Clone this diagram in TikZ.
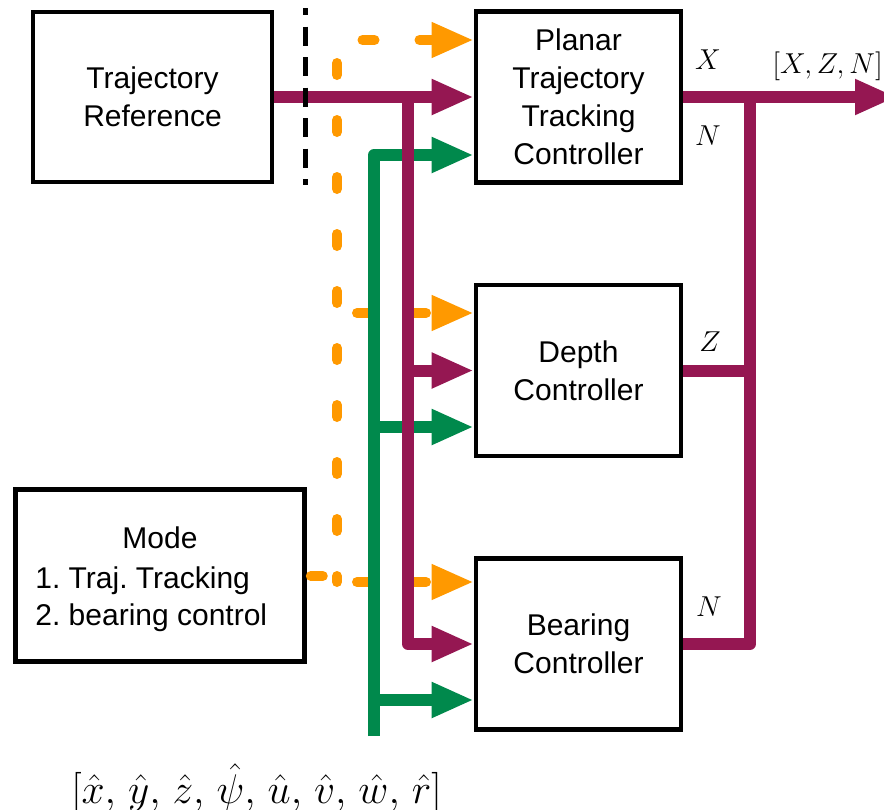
\documentclass[tikz,border=0pt]{standalone}
\usepackage{fontspec}
\setmainfont{Liberation Sans}
\usetikzlibrary{arrows.meta}
\definecolor{cpur}{RGB}{149,23,82}
\definecolor{cgrn}{RGB}{0,137,76}
\definecolor{corg}{RGB}{255,153,0}
\frenchspacing
\newcommand{\cmsp}{,\mskip2.2mu}
\begin{document}
\begin{tikzpicture}[x=0.5pt,y=-0.5pt,
  blk/.style={draw=black,line width=2.3pt,inner sep=0pt,align=center,
    font=\fontsize{15}{19}\selectfont},
  ctrl/.style={blk,minimum width=102.5pt,minimum height=85.5pt},
  txt/.style={inner sep=0pt,font=\fontsize{15}{19}\selectfont},
  lbl/.style={inner sep=0pt,font=\fontsize{15}{18}\selectfont},
  wire/.style={line width=6pt,line join=round},
  tipa/.style={-{Triangle[length=21pt,width=16.5pt]}},
  owire/.style={line width=5pt,corg,line cap=round,dash pattern=on 6pt off 22.5pt},
  sep/.style={line width=2.5pt,black,dash pattern=on 9.5pt off 5.75pt,dash phase=6pt}]
\useasboundingbox (0,0) rectangle (884,809);

% blocks
\node[blk,minimum width=119.5pt,minimum height=85pt] (trajref) at (152.5,97) {Trajectory\\Reference};
\node[ctrl] (planar) at (578.5,97) {Planar\\Trajectory\\Tracking\\Controller};
\node[ctrl] (depth) at (578.5,370.5) {Depth\\Controller};
\node[ctrl] (bearing) at (578.5,644) {Bearing\\Controller};
\node[blk,minimum width=144.5pt,minimum height=86pt] (mode) at (160,575.5) {};
\node[txt,anchor=base] (modet) at (160,548) {Mode};
\node[txt,anchor=base west] (mode1) at (35,588) {1. Traj. Tracking};
\node[txt,anchor=base west] (mode2) at (35,625) {2. bearing control};

% junction coordinates
\coordinate (otop) at (337,40);
\coordinate (obot) at (337,576);
\coordinate (pj) at (408,97);
\coordinate (gs) at (374,736);
\coordinate (gtop) at (374,155);
\coordinate (pb) at (750,97);
\coordinate (outend) at (897,97);
\coordinate (sepa) at (305.5,8);
\coordinate (sepb) at (305.5,185);

% orange (mode) signals
\draw[owire,dash phase=26.5pt] (mode.east |- obot) -- (obot);
\draw[owire,dash phase=17pt] (otop) -- (337,582);
\draw[owire,dash phase=15.75pt,tipa] (otop) -- (otop -| planar.west);
\draw[owire,dash phase=18.5pt,tipa] (337,313) -- (depth.west |- 0,313);
\draw[owire,dash phase=18.5pt,tipa] (337,582) -- (bearing.west |- 0,582);

% green (state estimate) signals
\draw[wire,cgrn,tipa] (gs) -- (gtop) -- (gtop -| planar.west);
\draw[wire,cgrn,tipa] (gs |- 0,427) -- (depth.west |- 0,427);
\draw[wire,cgrn,tipa] (gs |- 0,700) -- (bearing.west |- 0,700);

% purple (reference) signals
\draw[wire,cpur,tipa] (trajref.east) -- (trajref.east -| planar.west);
\draw[wire,cpur,tipa] (pj) |- (bearing.west);
\draw[wire,cpur,tipa] (pj |- depth.west) -- (depth.west);

% outputs
\draw[wire,cpur,tipa] (planar.east) -- (outend);
\draw[wire,cpur] (pb) |- (bearing.east);
\draw[wire,cpur] (depth.east) -- (pb |- depth.east);

% separator
\draw[sep] (sepa) -- (sepb);

% labels
\node[lbl] (lx) at (708,60) {$X$};
\node[lbl] (ln1) at (708,136) {$N$};
\node[lbl] (lz) at (710,342) {$Z$};
\node[lbl] (ln2) at (709,607) {$N$};
\node[lbl,anchor=base west] (lout) at (772,73) {$[X,Z,N]$};
\node[inner sep=0pt,anchor=base,font=\fontsize{21}{25}\selectfont] (lstate) at (256.5,803)
  {$[\hat{x}\cmsp\hat{y}\cmsp\hat{z}\cmsp\hat{\psi}\cmsp\hat{u}\cmsp\hat{v}\cmsp\hat{w}\cmsp\hat{r}]$};
\end{tikzpicture}
\end{document}
